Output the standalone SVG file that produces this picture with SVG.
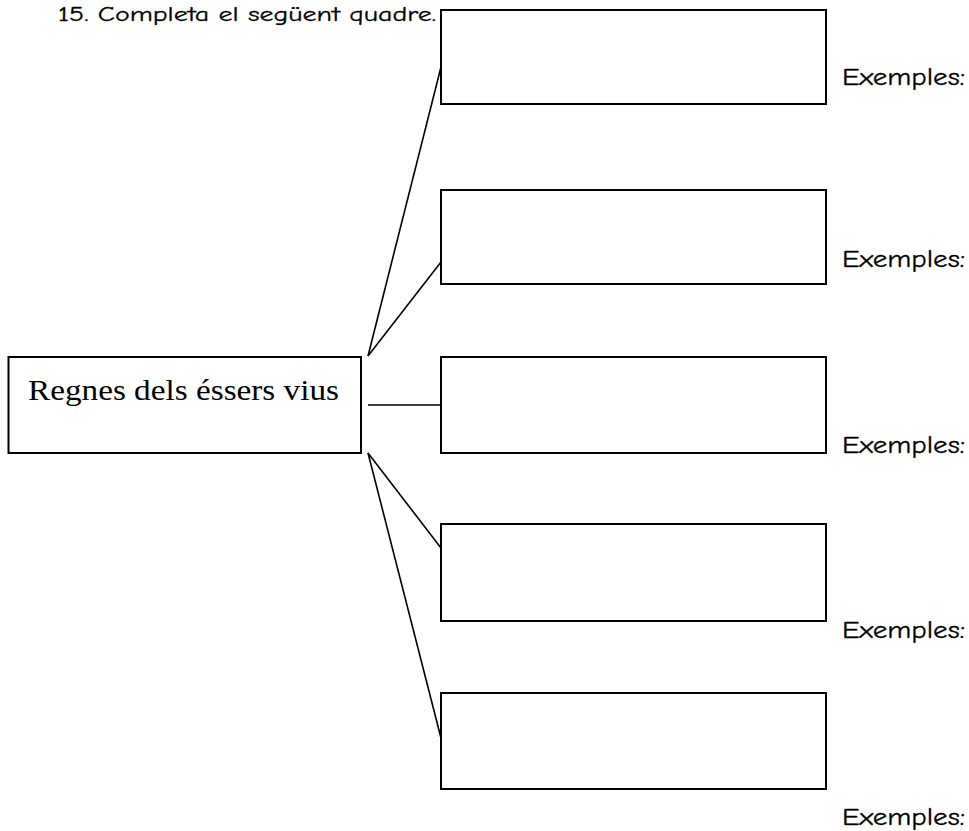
<svg xmlns="http://www.w3.org/2000/svg" width="969" height="831" viewBox="0 0 969 831">
<style>
.box{fill:#fff;stroke:#000;stroke-width:2}
.con{stroke:#000;stroke-width:1.6;fill:none}
.ex{font-family:"Comic Neue","Liberation Sans",sans-serif;font-size:24px;fill:#000;stroke:#000;stroke-width:0.3}
.ttl{font-family:"Comic Neue","Liberation Sans",sans-serif;font-size:21px;fill:#000;stroke:#000;stroke-width:0.3}
.main{font-family:"Liberation Serif",serif;font-size:30px;fill:#000}
</style>
<rect width="969" height="831" fill="#fff"/>
<text class="ttl" x="58" y="21" textLength="378" lengthAdjust="spacingAndGlyphs">15. Completa el següent quadre.</text>
<g id="connectors">
<line class="con" x1="368" y1="356" x2="441" y2="67"/>
<line class="con" x1="368" y1="356" x2="441" y2="262"/>
<line class="con" x1="368" y1="405" x2="441" y2="405"/>
<line class="con" x1="368" y1="453" x2="441" y2="548"/>
<line class="con" x1="368" y1="453" x2="441" y2="738"/>
</g>
<g id="root">
<rect class="box" x="8.5" y="357" width="352.5" height="96"/>
<text class="main" x="28" y="400" textLength="311" lengthAdjust="spacingAndGlyphs">Regnes dels éssers vius</text>
</g>
<g id="box1"><rect class="box" x="441" y="10" width="385" height="94"/><text class="ex" x="842" y="85" textLength="123" lengthAdjust="spacingAndGlyphs">Exemples:</text></g>
<g id="box2"><rect class="box" x="441" y="190" width="385" height="94"/><text class="ex" x="842" y="267" textLength="123" lengthAdjust="spacingAndGlyphs">Exemples:</text></g>
<g id="box3"><rect class="box" x="441" y="357" width="385" height="96"/><text class="ex" x="842" y="453" textLength="123" lengthAdjust="spacingAndGlyphs">Exemples:</text></g>
<g id="box4"><rect class="box" x="441" y="524" width="385" height="97"/><text class="ex" x="842" y="638" textLength="123" lengthAdjust="spacingAndGlyphs">Exemples:</text></g>
<g id="box5"><rect class="box" x="441" y="693" width="385" height="96"/><text class="ex" x="842" y="825" textLength="123" lengthAdjust="spacingAndGlyphs">Exemples:</text></g>
</svg>
